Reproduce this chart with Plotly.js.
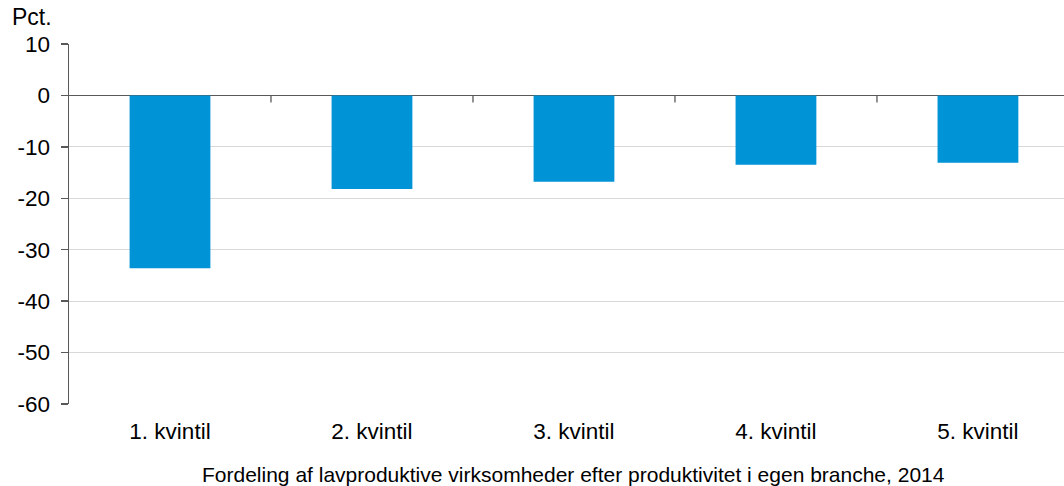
<!DOCTYPE html>
<html>
<head>
<meta charset="utf-8">
<script src="https://cdn.plot.ly/plotly-3.0.1.min.js"></script>
<style>html,body{margin:0;padding:0;background:#fff;}#chart{width:1064px;height:486px;}</style>
</head>
<body>
<div id="chart"></div>
<script>
var categories = ["1. kvintil", "2. kvintil", "3. kvintil", "4. kvintil", "5. kvintil"];
var values = [-33.6, -18.2, -16.8, -13.5, -13.1];
var yTicks = [10, 0, -10, -20, -30, -40, -50, -60];
var yTickText = ["10", "0", "-10", "-20", "-30", "-40", "-50", "-60"];
var yUnit = "Pct.";
var caption = "Fordeling af lavproduktive virksomheder efter produktivitet i egen branche, 2014";

var font = "Arial, 'Liberation Sans', sans-serif";
var xIdx = categories.map(function (c, i) { return i; });

var tickShapes = [];
for (var i = 0; i < categories.length - 1; i++) {
  tickShapes.push({
    type: "line", xref: "x", yref: "y", x0: i + 0.5, x1: i + 0.5,
    ysizemode: "pixel", yanchor: 0, y0: 0, y1: -7,
    line: {color: "#595959", width: 1.3}
  });
}

var data = [{
  type: "bar",
  x: xIdx,
  y: values,
  marker: {color: "#0093D6", line: {width: 0}},
  hoverinfo: "none"
}];

var layout = {
  width: 1064, height: 486,
  margin: {l: 69, r: 0, t: 44, b: 82, pad: 0},
  paper_bgcolor: "#fff", plot_bgcolor: "#fff",
  showlegend: false,
  bargap: 0.6,
  font: {family: font, color: "#000", size: 22},
  xaxis: {
    range: [-0.5, 4.426],
    tickmode: "array", tickvals: xIdx, ticktext: categories,
    ticks: "", showgrid: false, zeroline: false, showline: false,
    tickfont: {family: font, size: 22.5, color: "#000"},
    ticklabelstandoff: 11,
    fixedrange: true
  },
  yaxis: {
    range: [-60, 10],
    tickmode: "array", tickvals: yTicks, ticktext: yTickText,
    ticks: "outside", ticklen: 7, tickwidth: 1.3, tickcolor: "#595959",
    showline: true, linecolor: "#595959", linewidth: 1.5,
    showgrid: true, gridcolor: "#d9d9d9", gridwidth: 1,
    zeroline: true, zerolinecolor: "#595959", zerolinewidth: 1.5,
    tickfont: {family: font, size: 22.5, color: "#000"},
    ticklabelstandoff: 6,
    fixedrange: true
  },
  shapes: tickShapes,
  annotations: [
    {text: yUnit, xref: "paper", yref: "paper", x: -0.0593, y: 1.0, xanchor: "left", yanchor: "bottom",
     yshift: 12, showarrow: false, font: {family: font, size: 23, color: "#000"}},
    {text: caption, xref: "paper", yref: "paper", x: 0.507, y: 0, xanchor: "center", yanchor: "middle",
     yshift: -70, showarrow: false, font: {family: font, size: 21, color: "#000"}}
  ]
};

Plotly.newPlot("chart", data, layout, {displayModeBar: false, staticPlot: true});
</script>
</body>
</html>
